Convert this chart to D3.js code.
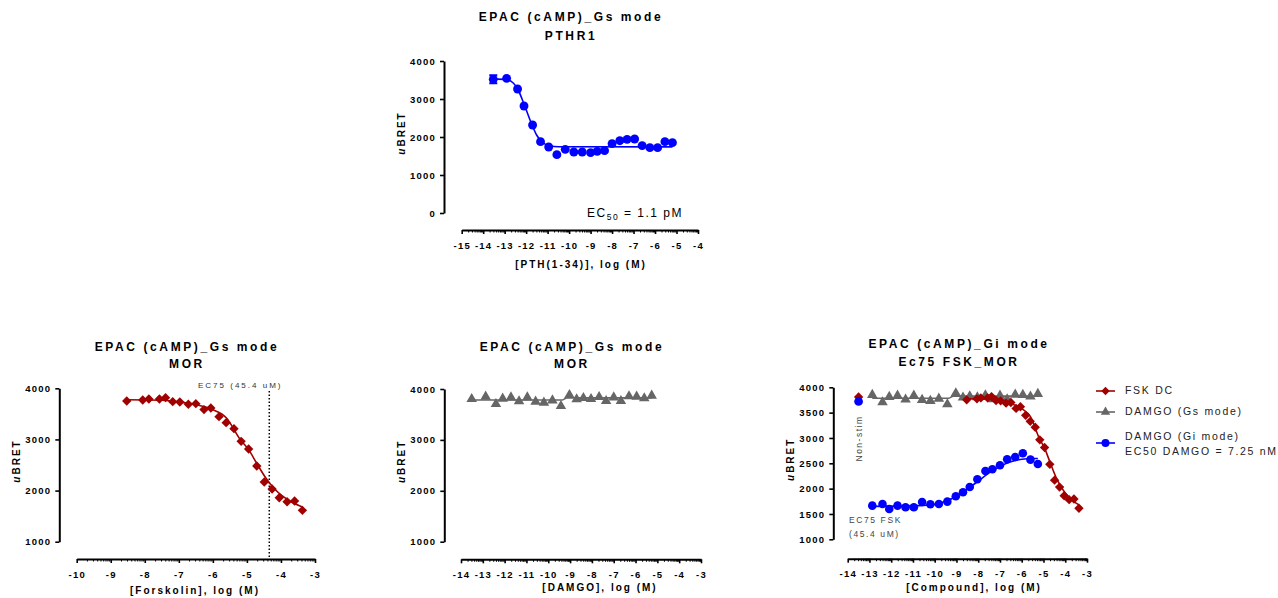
<!DOCTYPE html>
<html>
<head>
<meta charset="utf-8">
<script src="https://cdn.jsdelivr.net/npm/d3@7"></script>
<style>
  body { margin: 0; background: #fff; }
  svg { font-family: "Liberation Sans", Arial, sans-serif; }
</style>
</head>
<body>
<svg id="chart" width="1278" height="598"></svg>
<script>
// ---- data ----
// PTHR1, PTH(1-34)
const pthLogX = [-13.53, -12.91, -12.40, -12.10, -11.70, -11.33, -10.95, -10.57, -10.18, -9.78, -9.39, -9.00,
                 -8.69, -8.35, -8.00, -7.64, -7.30, -6.95, -6.60, -6.24, -5.88, -5.54, -5.19];
const pthBret = [3517, 3543, 3263, 2816, 2316, 1877, 1737, 1535, 1675, 1605, 1605, 1588,
                 1623, 1640, 1825, 1903, 1939, 1947, 1772, 1719, 1719, 1877, 1851];
const pthSem  = [105, 0, 0, 0, 0, 0, 0, 0, 0, 0, 0, 0, 0, 0, 0, 0, 0, 0, 0, 0, 0, 0, 0];
const pthFitX = [-13.53, -12.9, -12.6, -12.4, -12.1, -11.8, -11.5, -11.2, -10.9, -10.5, -5.19];
const pthFitY = [3530, 3510, 3420, 3270, 2870, 2420, 2040, 1840, 1770, 1745, 1740];

// Forskolin on MOR cells
const fskLogX = [-8.53, -8.06, -7.88, -7.57, -7.39, -7.18, -6.97, -6.72, -6.50, -6.26, -6.06, -5.82,
                 -5.61, -5.38, -5.17, -4.95, -4.71, -4.49, -4.26, -4.05, -3.82, -3.60, -3.37];
const fskBret = [3752, 3772, 3791, 3791, 3817, 3739, 3733, 3687, 3700, 3583, 3615, 3446,
                 3328, 3211, 2963, 2813, 2480, 2167, 2030, 1860, 1782, 1795, 1613];
const fskFitX = [-8.53, -7.5, -7.0, -6.5, -6.0, -5.6, -5.2, -4.95, -4.7, -4.45, -4.2, -3.95, -3.7, -3.37];
const fskFitY = [3775, 3765, 3735, 3680, 3580, 3420, 3000, 2800, 2520, 2250, 2040, 1890, 1780, 1680];
const fskEc75Log = -4.343;

// DAMGO, Gs mode
const damgoLogX = [-13.51, -12.87, -12.40, -12.09, -11.71, -11.34, -10.96, -10.58, -10.20, -9.81, -9.42, -9.03,
                   -8.70, -8.39, -8.04, -7.67, -7.35, -7.00, -6.67, -6.30, -5.95, -5.60, -5.26];
const damgoGsBret = [3804, 3849, 3705, 3810, 3836, 3758, 3836, 3751, 3731, 3777, 3666, 3882,
                     3797, 3823, 3804, 3843, 3764, 3836, 3764, 3856, 3849, 3817, 3869];
const damgoGsFitX = [-13.51, -9.35, -9.15, -5.26];
const damgoGsFitY = [3785, 3785, 3825, 3825];

// DAMGO, Gi mode (on EC75 forskolin)
const damgoGiBret = [1664, 1697, 1599, 1664, 1632, 1632, 1737, 1691, 1697, 1743, 1849, 1928,
                     2033, 2184, 2349, 2382, 2461, 2579, 2625, 2697, 2572, 2487];
const damgoGiFitX = [-12.87, -11.5, -10.5, -10.0, -9.5, -9.0, -8.5, -8.0, -7.5, -7.0, -6.5, -6.0, -5.5, -5.26];
const damgoGiFitY = [1650, 1655, 1670, 1690, 1750, 1850, 1990, 2150, 2310, 2440, 2530, 2580, 2595, 2595];
const nonStimLogX = -13.5;
const nonStimFsk = 3810;
const nonStimGi = 3720;

// ticks
const yTicksPth = [0, 1000, 2000, 3000, 4000];
const yTicksMor = [1000, 2000, 3000, 4000];
const yTicksGi = [1000, 1500, 2000, 2500, 3000, 3500, 4000];
const xTicksPth = d3.range(-15, -3);
const xTicksFsk = d3.range(-10, -2);
const xTicksDamgo = d3.range(-14, -2);

const RED = "#a00000", GRAY = "#666666", BLUE = "#0000ff";
const plain = d => String(d);

const svg = d3.select("#chart");

function minorTicks(domain) {
  const out = [];
  for (let d = domain[0]; d < domain[1]; d++) {
    for (let k = 2; k <= 9; k++) out.push(d + Math.log10(k));
  }
  return out;
}

function makePanel(p) {
  const x = d3.scaleLinear().domain(p.xDomain).range(p.xRange);
  const y = d3.scaleLinear().domain(p.yDomain).range(p.yRange);
  const g = svg.append("g");

  p.title.forEach((t, i) => {
    g.append("text")
      .attr("x", p.titleX).attr("y", p.titleY[i])
      .attr("text-anchor", "middle")
      .style("font-size", "12px").style("font-weight", "bold")
      .style("letter-spacing", "2.6px")
      .text(t);
  });

  // y axis
  const ya = g.append("g")
    .attr("transform", `translate(${p.yAxisX},0)`)
    .call(d3.axisLeft(y).tickValues(p.yTicks).tickFormat(plain).tickSize(4).tickSizeOuter(0).tickPadding(4));
  ya.select(".domain").attr("stroke-width", 2);
  ya.selectAll(".tick line").attr("stroke-width", 1.6);
  ya.selectAll("text").attr("font-family", null).attr("font-size", null)
    .style("font-size", "9.5px").style("font-weight", "bold").style("letter-spacing", "1.2px");

  const mid = (p.yRange[0] + p.yRange[1]) / 2;
  const yl = g.append("text")
    .attr("transform", `translate(${p.yAxisX - 39.5},${mid - 4}) rotate(-90)`)
    .attr("text-anchor", "middle")
    .style("font-size", "10px").style("font-weight", "bold").style("letter-spacing", "2px");
  yl.append("tspan").style("font-style", "italic").text("u");
  yl.append("tspan").text("BRET");

  // x axis (log style, major + minor ticks)
  const xa = g.append("g")
    .attr("transform", `translate(0,${p.xAxisY})`)
    .call(d3.axisBottom(x).tickValues(p.xTicks).tickFormat(plain).tickSize(4).tickSizeOuter(0).tickPadding(8));
  xa.select(".domain").attr("stroke-width", 2);
  xa.selectAll(".tick line").attr("stroke-width", 1.6);
  xa.selectAll("text").attr("font-family", null).attr("font-size", null)
    .style("font-size", "9.5px").style("font-weight", "bold").style("letter-spacing", "1.2px");
  const xm = g.append("g")
    .attr("transform", `translate(0,${p.xAxisY})`)
    .call(d3.axisBottom(x).tickValues(minorTicks(p.xDomain)).tickSize(2.5).tickSizeOuter(0).tickFormat(""));
  xm.select(".domain").remove();
  xm.selectAll(".tick line").attr("stroke-width", 1);

  g.append("text")
    .attr("x", p.xTitleX).attr("y", p.xTitleY)
    .attr("text-anchor", "middle")
    .style("font-size", "10px").style("font-weight", "bold").style("letter-spacing", "2px")
    .text(p.xTitle);

  return { g, x, y };
}

function drawSeries(pn, xs, ys, fitX, fitY, color, symbolType, size) {
  const line = d3.line().x(d => pn.x(d[0])).y(d => pn.y(d[1])).curve(d3.curveMonotoneX);
  pn.g.append("path")
    .datum(d3.zip(fitX, fitY))
    .attr("d", line)
    .attr("fill", "none")
    .attr("stroke", color)
    .attr("stroke-width", 1.6);
  pn.g.selectAll(null)
    .data(d3.zip(xs, ys))
    .enter().append("path")
    .attr("transform", d => `translate(${pn.x(d[0])},${pn.y(d[1])})`)
    .attr("d", d3.symbol().type(symbolType).size(size))
    .attr("fill", color);
}

// ---- top: PTHR1 ----
const pTop = makePanel({
  xDomain: [-15, -4], xRange: [461.7, 698], yDomain: [0, 4000], yRange: [213, 61],
  yAxisX: 444, xAxisY: 230, yTicks: yTicksPth, xTicks: xTicksPth,
  title: ["EPAC (cAMP)_Gs mode", "PTHR1"], titleX: 571, titleY: [21, 40],
  xTitle: "[PTH(1-34)], log (M)", xTitleX: 581, xTitleY: 268
});
// error bar on first point
pthLogX.forEach((lx, i) => {
  if (!pthSem[i]) return;
  const cx = pTop.x(lx), y1 = pTop.y(pthBret[i] - pthSem[i]), y2 = pTop.y(pthBret[i] + pthSem[i]);
  pTop.g.append("path")
    .attr("d", `M${cx},${y1}V${y2}M${cx - 4},${y1}H${cx + 4}M${cx - 4},${y2}H${cx + 4}`)
    .attr("stroke", BLUE).attr("stroke-width", 2).attr("fill", "none");
});
drawSeries(pTop, pthLogX, pthBret, pthFitX, pthFitY, BLUE, d3.symbolCircle, 62);
const ec50 = pTop.g.append("text")
  .attr("x", 587).attr("y", 217)
  .style("font-size", "12px").style("letter-spacing", "1.5px");
ec50.append("tspan").text("EC");
ec50.append("tspan").attr("dy", 3).style("font-size", "8.5px").text("50");
ec50.append("tspan").attr("dy", -3).text(" = 1.1 pM");

// ---- bottom left: forskolin on MOR ----
const pFsk = makePanel({
  xDomain: [-10, -3], xRange: [76.7, 315], yDomain: [1000, 4000], yRange: [541.7, 388.3],
  yAxisX: 59.3, xAxisY: 559, yTicks: yTicksMor, xTicks: xTicksFsk,
  title: ["EPAC (cAMP)_Gs mode", "MOR"], titleX: 187, titleY: [350.5, 367.5],
  xTitle: "[Forskolin], log (M)", xTitleX: 195, xTitleY: 594
});
pFsk.g.append("line")
  .attr("x1", pFsk.x(fskEc75Log)).attr("x2", pFsk.x(fskEc75Log))
  .attr("y1", 391).attr("y2", 559)
  .attr("stroke", "#000").attr("stroke-width", 1.5).attr("stroke-dasharray", "1.5,2");
pFsk.g.append("text")
  .attr("x", 198).attr("y", 387.5)
  .style("font-size", "8px").style("letter-spacing", "2px").style("fill", "#333")
  .text("EC75 (45.4 uM)");
drawSeries(pFsk, fskLogX, fskBret, fskFitX, fskFitY, RED, d3.symbolDiamond2, 56);

// ---- bottom middle: DAMGO Gs mode ----
const pDamgo = makePanel({
  xDomain: [-14, -3], xRange: [461, 701], yDomain: [1000, 4000], yRange: [541.7, 389],
  yAxisX: 444.3, xAxisY: 559.3, yTicks: yTicksMor, xTicks: xTicksDamgo,
  title: ["EPAC (cAMP)_Gs mode", "MOR"], titleX: 572, titleY: [350.5, 367.5],
  xTitle: "[DAMGO], log (M)", xTitleX: 600, xTitleY: 591
});
drawSeries(pDamgo, damgoLogX, damgoGsBret, damgoGsFitX, damgoGsFitY, GRAY, d3.symbolTriangle, 48);

// ---- bottom right: Gi mode ----
const pGi = makePanel({
  xDomain: [-14, -3], xRange: [847.7, 1087], yDomain: [1000, 4000], yRange: [539.3, 387.3],
  yAxisX: 833.3, xAxisY: 558.7, yTicks: yTicksGi, xTicks: xTicksDamgo,
  title: ["EPAC (cAMP)_Gi mode", "Ec75 FSK_MOR"], titleX: 959, titleY: [347.5, 366],
  xTitle: "[Compound], log (M)", xTitleX: 974, xTitleY: 591
});
drawSeries(pGi, damgoLogX.slice(1), damgoGsBret.slice(1), damgoGsFitX.map((v, i) => i === 0 ? damgoLogX[1] : v), damgoGsFitY, GRAY, d3.symbolTriangle, 48);
drawSeries(pGi, fskLogX, fskBret, fskFitX, fskFitY, RED, d3.symbolDiamond2, 56);
drawSeries(pGi, damgoLogX.slice(1), damgoGiBret, damgoGiFitX, damgoGiFitY, BLUE, d3.symbolCircle, 58);
pGi.g.append("path")
  .attr("transform", `translate(${pGi.x(nonStimLogX)},${pGi.y(nonStimFsk)})`)
  .attr("d", d3.symbol().type(d3.symbolDiamond2).size(56)).attr("fill", RED);
pGi.g.append("path")
  .attr("transform", `translate(${pGi.x(nonStimLogX)},${pGi.y(nonStimGi)})`)
  .attr("d", d3.symbol().type(d3.symbolCircle).size(60)).attr("fill", BLUE);
pGi.g.append("text")
  .attr("transform", "translate(862,438.5) rotate(-90)")
  .attr("text-anchor", "middle")
  .style("font-size", "8.5px").style("letter-spacing", "1.5px").style("fill", "#444")
  .text("Non-stim");
pGi.g.append("text").attr("x", 849).attr("y", 522.5)
  .style("font-size", "8.5px").style("letter-spacing", "1.6px").style("fill", "#444")
  .text("EC75 FSK");
pGi.g.append("text").attr("x", 849).attr("y", 537)
  .style("font-size", "8.5px").style("letter-spacing", "1.6px").style("fill", "#444")
  .text("(45.4 uM)");

// ---- legend ----
const legendItems = [
  { color: RED, sym: d3.symbolDiamond2, size: 44, y: 391, text: ["FSK DC"], ty: [394] },
  { color: GRAY, sym: d3.symbolTriangle, size: 38, y: 412, text: ["DAMGO (Gs mode)"], ty: [415] },
  { color: BLUE, sym: d3.symbolCircle, size: 50, y: 443, text: ["DAMGO (Gi mode)", "EC50 DAMGO = 7.25 nM"], ty: [439.5, 455] }
];
const lg = svg.append("g");
legendItems.forEach(it => {
  lg.append("line").attr("x1", 1096).attr("x2", 1115).attr("y1", it.y).attr("y2", it.y)
    .attr("stroke", it.color).attr("stroke-width", 1.6);
  lg.append("path").attr("transform", `translate(1105.5,${it.y})`)
    .attr("d", d3.symbol().type(it.sym).size(it.size)).attr("fill", it.color);
  it.text.forEach((t, i) => {
    lg.append("text").attr("x", 1125).attr("y", it.ty[i])
      .style("font-size", "10.5px").style("letter-spacing", "1.7px").style("fill", "#222")
      .text(t);
  });
});
</script>
</body>
</html>
